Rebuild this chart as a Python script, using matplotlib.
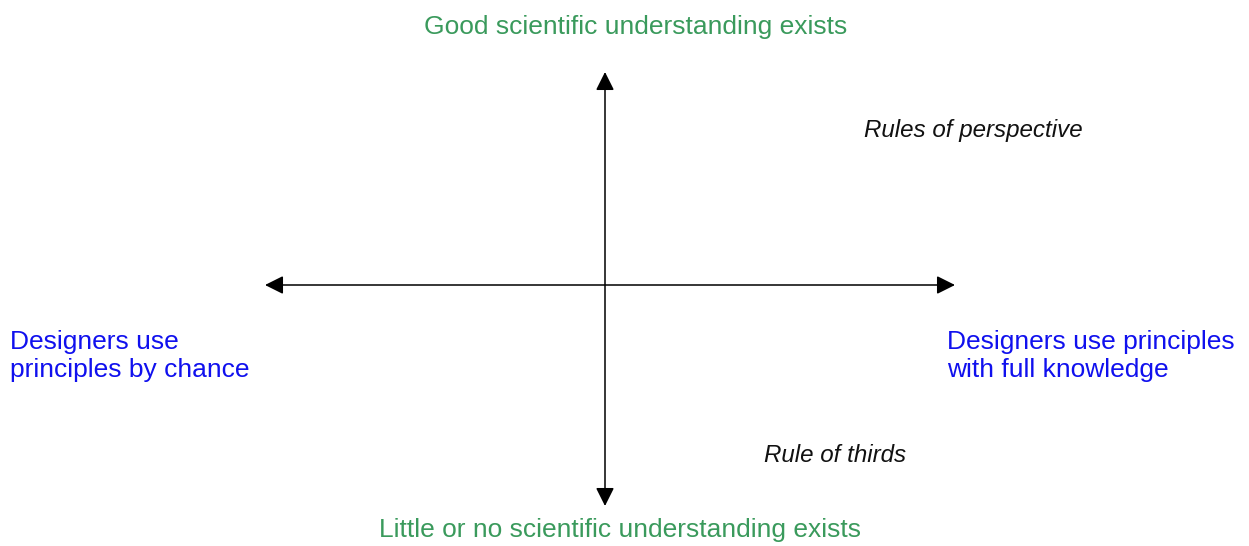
import matplotlib.pyplot as plt
from matplotlib.transforms import Bbox, TransformedBbox

plt.rcParams['font.family'] = ['Liberation Sans', 'DejaVu Sans']

# axis labels of the quadrant diagram
top_label = 'Good scientific understanding exists'
bottom_label = 'Little or no scientific understanding exists'
left_label = 'Designers use\nprinciples by chance'
right_label = 'Designers use principles\nwith full knowledge'

# items placed in the quadrants
items = ['Rules of perspective', 'Rule of thirds']
item_x = [864, 764]
item_y = [130, 455]

# extents of the two axes (pixel units of the figure)
h_axis = [265, 955]
v_axis = [506, 72]
centre = [605, 285]

green = '#3a9a5c'
blue = '#1010ee'

fig = plt.figure(figsize=(12.49, 5.46), dpi=100)
ax = fig.add_axes([0, 0, 1, 1])
ax.set_xlim(0, 1249)
ax.set_ylim(546, 0)
ax.axis('off')

arrow = dict(arrowstyle='<|-|>', color='black', lw=1.1, mutation_scale=28,
             shrinkA=0, shrinkB=0)
ax.annotate('', xy=(h_axis[0], centre[1]), xytext=(h_axis[1], centre[1]), arrowprops=arrow)
ax.annotate('', xy=(centre[0], v_axis[1]), xytext=(centre[0], v_axis[0]), arrowprops=arrow)

ax.text(636, 27, top_label, color=green, fontsize=19, ha='center', va='center')
ax.text(620, 530, bottom_label, color=green, fontsize=19, ha='center', va='center')
ax.text(10, 356, left_label, color=blue, fontsize=19, ha='left', va='center',
        linespacing=1.22)
ax.text(947, 356, right_label, color=blue, fontsize=19, ha='left', va='center',
        linespacing=1.22)

# the lower label is cut off at its bottom in the original
clip = TransformedBbox(Bbox.from_extents(0, 0, 1249, 462), ax.transData)
for name, x, y in zip(items, item_x, item_y):
    t = ax.text(x, y, name, style='italic', fontsize=17.4, ha='left', va='center',
                color='#111111', clip_on=True)
    t.set_clip_box(clip)

fig.savefig('out.png', dpi=100)
